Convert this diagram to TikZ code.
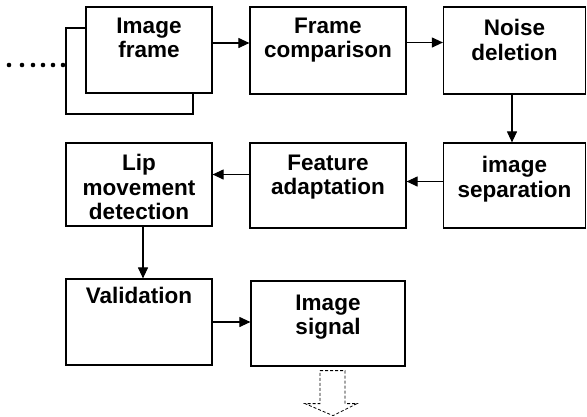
\documentclass[tikz,border=0pt]{standalone}
\usepackage{fontspec}
\setmainfont{Liberation Sans}
\usepackage{tikz}
\usetikzlibrary{arrows.meta,calc}

\begin{document}
\begin{tikzpicture}[x=1pt,y=-1pt,
  box/.style={draw,line width=1.2pt,fill=white,inner sep=0pt},
  txt/.style={anchor=north,align=center,inner sep=0pt,
    font=\bfseries\fontsize{22.5}{24.5}\selectfont},
  flow/.style={line width=1.1pt,-{Triangle[length=11pt,width=10pt]}}]
\useasboundingbox (0,0) rectangle (587,416);

% leading dots
\foreach \dx in {9,22,33,43,53,63} \fill (\dx,65) circle (2.3);

% stacked frames
\node[box,minimum width=127pt,minimum height=86pt] (back) at (129.5,71) {};
\node[box,minimum width=126pt,minimum height=86pt] (img) at (149,50) {};
\node[txt] (img-t) at ([yshift=-11pt]img.north) {Image\\frame};

\node[box,minimum width=156pt,minimum height=87pt] (fc) at (328,50.5) {};
\node[txt] (fc-t) at ([yshift=-11pt]fc.north) {Frame\\comparison};

\node[box,minimum width=142pt,minimum height=87pt] (nd) at (514.5,50.5) {};
\node[txt] (nd-t) at ([yshift=-13pt]nd.north) {Noise\\deletion};

% second row
\node[box,minimum width=142pt,minimum height=85pt] (is) at (514.5,185.5) {};
\node[txt] (is-t) at ([yshift=-14pt]is.north) {image\\separation};

\node[box,minimum width=156pt,minimum height=85pt] (fa) at (328,185.5) {};
\node[txt] (fa-t) at ([yshift=-12pt]fa.north) {Feature\\adaptation};

\node[box,minimum width=146pt,minimum height=83pt] (lip) at (139,184.5) {};
\node[txt] (lip-t) at ([yshift=-12pt]lip.north) {Lip\\movement\\detection};

% third row
\node[box,minimum width=146pt,minimum height=86pt] (val) at (139,322) {};
\node[txt] (val-t) at ([yshift=-9pt]val.north) {Validation};

\node[box,minimum width=154pt,minimum height=85pt] (sig) at (328,323.5) {};
\node[txt] (sig-t) at ([yshift=-14pt]sig.north) {Image\\signal};

% connectors
\draw[flow] ([yshift=7pt]img.east) -- ([yshift=7pt]img.east -| fc.west);
\draw[flow] ([yshift=8pt]fc.east) -- ([yshift=8pt]fc.east -| nd.west);
\draw[flow] ([xshift=-2.5pt]nd.south) -- ([xshift=-2.5pt]is.north);
\draw[flow] ([yshift=4pt]is.west) -- ([yshift=4pt]is.west -| fa.east);
\draw[flow] ([yshift=11pt]fa.west) -- ([yshift=11pt]fa.west -| lip.east);
\draw[flow] ([xshift=4pt]lip.south) -- ([xshift=4pt]lip.south |- val.north);
\draw[flow] (val.east) -- (val.east -| sig.west);

% hollow output arrow
\draw[densely dashed,line width=0.8pt,shift={(sig.south)}]
  (-8,4) -- (17,4) -- (17,37) -- (29,37) -- (5,49) -- (-23,37) -- (-8,37) -- cycle;
\end{tikzpicture}
\end{document}
